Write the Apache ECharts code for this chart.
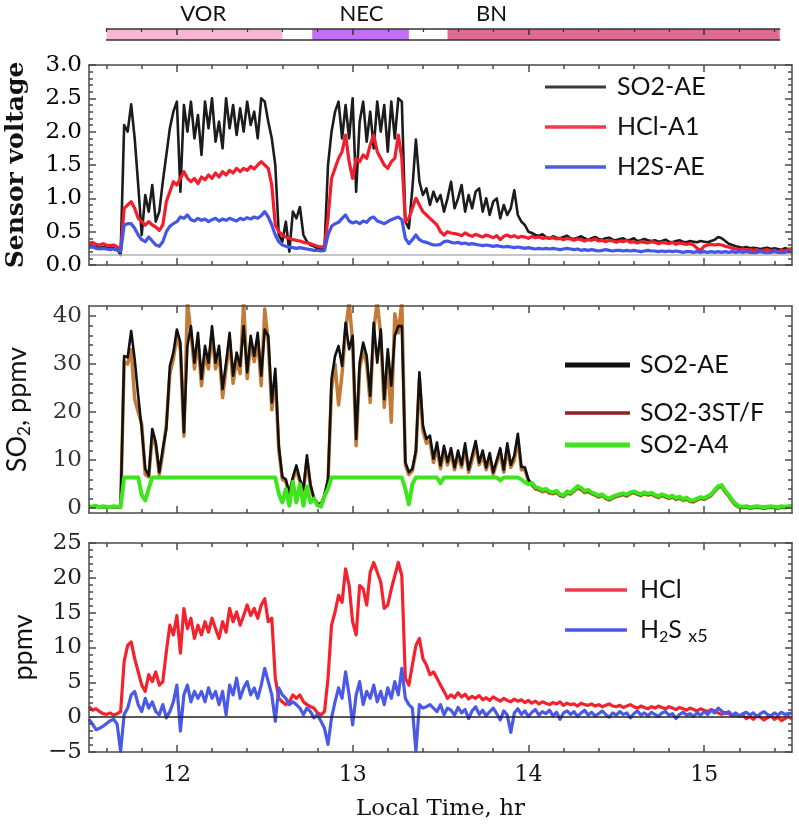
<!DOCTYPE html>
<html>
<head>
<meta charset="utf-8">
<script src="https://cdn.jsdelivr.net/npm/echarts@6/dist/echarts.min.js"></script>
<style>html,body{margin:0;padding:0;background:#fff}#c{width:799px;height:836px}</style>
</head>
<body>
<div id="c"></div>
<script>
// ------------------------- DATA -------------------------
// samples every 0.02 hr from 11.50 to 15.50 (201 samples)
const timeStart = 11.5, timeEnd = 15.5, timeStep = 0.02;
const timeTicks = [12, 13, 14, 15];
const voltageTicks = [0, 0.5, 1, 1.5, 2, 2.5, 3];
const so2Ticks = [0, 10, 20, 30, 40];
const ppmvTicks = [-5, 0, 5, 10, 15, 20, 25];

// plume sampling periods (top bar)
const periodNames = ['VOR', 'NEC', 'BN'];
const periodStart = [11.6, 12.77, 13.54];
const periodEnd = [12.6, 13.32, 15.43];
const periodLabelAt = [12.15, 13.05, 13.79];

// panel 1: sensor voltage
const voltNames = ['SO2-AE', 'HCl-A1', 'H2S-AE'];
const voltBaseline = 0.16;
const voltSO2AE = [
0.27,0.28,0.27,0.26,0.27,0.26,0.25,0.26,0.24,0.15,
2.1,2.0,2.41,1.9,1.2,0.45,1.05,0.8,1.2,0.65,
0.8,1.25,1.65,2.05,2.3,2.45,1.1,2.4,2.0,2.45,
1.9,2.25,1.65,2.45,2.05,2.5,1.85,2.15,1.75,2.5,
2.05,2.4,1.95,2.35,2.0,2.45,2.1,2.3,1.9,2.5,
2.45,2.15,1.9,1.5,0.45,0.35,0.65,0.2,0.8,0.7,
0.87,0.45,0.35,0.3,0.28,0.25,0.23,0.25,1.5,2.0,
2.3,2.45,1.9,2.4,1.9,2.5,1.1,2.15,2.45,1.85,
2.3,1.75,2.45,2.0,2.4,1.7,2.45,1.9,2.5,2.45,
0.65,0.55,1.15,1.88,1.25,1.05,1.15,0.9,1.1,0.95,
1.05,0.8,1.0,1.25,0.85,1.0,1.2,0.8,1.05,0.85,
1.1,1.15,0.8,1.0,0.75,0.95,1.0,0.7,0.9,0.75,
0.85,1.12,0.75,0.65,0.6,0.5,0.48,0.45,0.44,0.46,
0.42,0.4,0.43,0.41,0.4,0.42,0.44,0.4,0.39,0.41,
0.43,0.4,0.38,0.4,0.42,0.39,0.38,0.4,0.41,0.38,
0.37,0.39,0.4,0.37,0.38,0.4,0.36,0.37,0.39,0.37,
0.36,0.37,0.35,0.36,0.38,0.35,0.34,0.36,0.37,0.35,
0.34,0.36,0.35,0.34,0.36,0.35,0.34,0.36,0.38,0.42,
0.4,0.36,0.32,0.3,0.28,0.27,0.26,0.27,0.25,0.26,
0.25,0.24,0.25,0.26,0.24,0.25,0.24,0.23,0.25,0.24,
0.23];
const voltHCl = [
0.32,0.34,0.31,0.3,0.32,0.3,0.29,0.3,0.27,0.22,
0.85,0.9,0.95,0.85,0.7,0.65,0.6,0.65,0.6,0.57,
0.52,0.6,0.95,1.1,1.25,1.2,1.3,1.4,1.3,1.25,
1.3,1.22,1.32,1.28,1.35,1.3,1.38,1.32,1.4,1.35,
1.42,1.38,1.45,1.4,1.45,1.42,1.48,1.44,1.5,1.55,
1.5,1.45,1.2,0.6,0.5,0.45,0.42,0.4,0.38,0.37,
0.36,0.34,0.33,0.32,0.3,0.28,0.27,0.28,0.7,1.3,
1.45,1.6,1.7,1.95,1.55,1.3,1.6,1.55,1.65,1.6,
1.8,1.95,1.7,1.6,1.5,1.45,1.55,1.6,1.95,1.6,
0.65,0.7,0.85,1.0,0.9,0.8,0.75,0.7,0.65,0.6,
0.5,0.45,0.5,0.48,0.47,0.46,0.44,0.48,0.45,0.43,
0.46,0.44,0.42,0.45,0.43,0.41,0.44,0.38,0.43,0.45,
0.42,0.44,0.41,0.43,0.42,0.4,0.43,0.41,0.42,0.4,
0.41,0.4,0.41,0.39,0.4,0.38,0.4,0.39,0.37,0.39,
0.38,0.36,0.38,0.37,0.39,0.36,0.37,0.35,0.37,0.36,
0.34,0.36,0.35,0.37,0.34,0.35,0.33,0.35,0.34,0.33,
0.35,0.34,0.32,0.34,0.33,0.32,0.34,0.31,0.33,0.32,
0.31,0.32,0.3,0.25,0.22,0.28,0.3,0.31,0.3,0.31,
0.3,0.28,0.27,0.25,0.24,0.23,0.24,0.22,0.23,0.22,
0.23,0.21,0.22,0.23,0.21,0.22,0.2,0.22,0.21,0.23,
0.25];
const voltH2S = [
0.26,0.27,0.25,0.24,0.25,0.24,0.23,0.24,0.22,0.2,
0.6,0.62,0.62,0.55,0.45,0.38,0.35,0.42,0.36,0.3,
0.28,0.35,0.5,0.58,0.62,0.65,0.72,0.7,0.75,0.68,
0.66,0.7,0.67,0.69,0.65,0.68,0.7,0.66,0.69,0.67,
0.7,0.68,0.66,0.7,0.68,0.71,0.69,0.72,0.7,0.74,
0.8,0.72,0.6,0.45,0.35,0.3,0.28,0.27,0.26,0.25,
0.26,0.25,0.24,0.23,0.22,0.22,0.21,0.22,0.45,0.58,
0.62,0.64,0.7,0.75,0.66,0.63,0.65,0.62,0.66,0.64,
0.7,0.72,0.66,0.64,0.62,0.65,0.68,0.7,0.72,0.68,
0.4,0.32,0.38,0.45,0.38,0.35,0.34,0.32,0.3,0.3,
0.31,0.35,0.36,0.34,0.33,0.34,0.32,0.33,0.31,0.32,
0.31,0.3,0.29,0.3,0.29,0.28,0.29,0.28,0.27,0.28,
0.27,0.26,0.27,0.26,0.25,0.26,0.25,0.24,0.25,0.24,
0.25,0.24,0.25,0.24,0.23,0.24,0.25,0.24,0.23,0.24,
0.22,0.23,0.22,0.23,0.22,0.21,0.22,0.23,0.22,0.21,
0.22,0.22,0.21,0.22,0.21,0.22,0.21,0.2,0.21,0.22,
0.21,0.21,0.2,0.21,0.2,0.21,0.2,0.21,0.2,0.19,
0.2,0.2,0.19,0.2,0.19,0.2,0.19,0.2,0.19,0.2,
0.19,0.2,0.19,0.2,0.19,0.2,0.19,0.2,0.19,0.18,
0.19,0.2,0.19,0.18,0.19,0.2,0.19,0.18,0.19,0.2,
0.19];

// panel 2: SO2, ppmv
const so2Names = ['SO2-AE', 'SO2-3ST/F', 'SO2-A4'];
const so2AE = [
0.3,0.2,0.4,0.1,0.3,0.2,0.1,0.3,0.2,0.2,
31.7,31.4,36.9,31.0,23.4,16.5,8.2,6.8,16.5,13.7,
7.5,12.4,16.5,29.6,32.4,37.2,34.5,15.8,33.8,37.9,
30.3,36.5,26.9,33.8,30.3,37.9,30.3,33.8,24.8,30.3,
36.5,27.6,32.4,29.6,37.9,28.3,35.9,31.7,36.5,27.6,
37.2,35.9,22.0,29.0,13.0,6.5,6.0,3.0,6.5,8.9,
6.0,4.0,11.0,5.0,2.0,1.0,0.8,2.8,6.0,26.9,
31.7,33.8,29.6,38.6,33.1,35.9,14.4,30.3,34.5,31.7,
23.4,38.6,30.3,37.2,22.7,33.1,25.5,35.9,37.9,37.9,
9.6,7.5,8.2,12.0,28.3,17.2,14.4,15.1,10.3,13.7,
8.9,13.0,9.6,12.5,8.5,12.0,9.0,13.5,8.0,11.0,
14.0,9.5,12.0,8.5,11.5,7.5,10.0,12.5,8.0,13.5,
9.0,11.0,15.5,8.6,8.5,6.0,5.0,4.2,4.0,3.6,
3.8,3.3,3.1,3.4,2.7,2.5,3.3,3.0,3.7,4.4,
4.0,3.4,3.6,3.1,2.8,2.4,2.7,2.1,1.8,2.2,
2.5,2.7,2.9,2.6,3.1,3.3,3.0,2.7,3.1,2.8,
3.0,2.6,2.3,2.7,2.4,2.1,2.4,1.9,2.2,1.7,
2.0,1.5,1.4,1.8,2.1,1.9,2.3,2.7,3.6,4.4,
4.6,3.4,2.6,1.5,0.7,0.2,0.1,0.2,0.0,0.1,
0.2,0.1,0.0,0.1,0.2,0.1,0.0,0.2,0.1,0.2,
0.3];
const so2ST = [
0.3,0.3,0.4,0.2,0.3,0.2,0.2,0.3,0.2,0.2,
30.5,30.0,33.0,22.7,20.0,17.5,7.0,6.5,15.0,13.0,
7.0,11.5,17.5,28.0,31.0,36.0,33.0,15.0,43.0,36.5,
29.0,35.0,25.5,32.0,29.0,36.5,29.0,32.5,23.0,29.0,
35.0,26.0,31.0,28.0,43.0,27.0,34.5,30.5,35.0,25.5,
41.5,34.5,20.5,27.5,12.0,6.0,5.5,3.0,6.0,8.0,
5.5,3.5,10.0,4.5,2.0,1.0,0.8,2.5,5.5,25.0,
30.0,21.5,28.0,37.0,43.0,34.5,13.0,29.0,33.0,30.0,
22.0,37.0,43.0,36.0,21.0,31.5,17.9,40.5,36.5,43.0,
9.0,7.0,7.8,11.5,27.0,16.0,13.5,14.0,9.5,12.5,
8.2,12.0,9.0,11.5,8.0,11.0,8.5,12.5,7.5,10.0,
13.0,9.0,11.0,8.0,10.5,7.0,9.5,11.5,7.5,12.5,
8.5,10.0,14.5,8.0,8.0,5.6,4.8,4.0,3.8,3.4,
3.6,3.1,3.0,3.2,2.6,2.4,3.1,2.9,3.5,4.2,
3.8,3.2,3.4,3.0,2.7,2.3,2.6,2.0,1.7,2.1,
2.4,2.6,2.8,2.5,3.0,3.2,2.9,2.6,3.0,2.7,
2.9,2.5,2.2,2.6,2.3,2.0,2.3,1.8,2.1,1.6,
1.9,1.4,1.3,1.7,2.0,1.8,2.2,2.6,3.5,4.3,
4.5,3.3,2.5,1.4,0.6,0.2,0.1,0.2,0.0,0.1,
0.2,0.1,0.0,0.1,0.2,0.1,0.0,0.2,0.1,0.2,
0.3];
const so2A4 = [
0.4,0.3,0.5,0.2,0.4,0.3,0.2,0.4,0.3,0.3,
6.4,6.4,6.4,6.4,6.4,2.7,1.6,4.1,6.4,6.4,
6.4,6.4,6.4,6.4,6.4,6.4,6.4,6.4,6.4,6.4,
6.4,6.4,6.4,6.4,6.4,6.4,6.4,6.4,6.4,6.4,
6.4,6.4,6.4,6.4,6.4,6.4,6.4,6.4,6.4,6.4,
6.4,6.4,6.4,6.4,3.0,1.2,4.0,0.5,5.5,1.2,
5.0,0.5,4.5,1.2,2.0,0.6,0.3,2.5,4.0,6.4,
6.4,6.4,6.4,6.4,6.4,6.4,6.4,6.4,6.4,6.4,
6.4,6.4,6.4,6.4,6.4,6.4,6.4,6.4,6.4,6.4,
4.0,0.8,5.0,6.4,6.4,6.4,6.4,6.4,6.4,6.4,
5.2,6.4,6.4,6.4,6.4,6.4,6.4,6.4,6.4,6.4,
6.4,6.4,6.4,6.4,6.4,6.4,6.4,5.8,6.4,6.4,
6.4,6.4,6.4,6.0,5.4,5.0,5.3,4.4,4.2,3.8,
4.0,3.5,3.3,3.6,2.9,2.7,3.5,3.2,3.9,4.6,
4.2,3.6,3.8,3.3,3.0,2.6,2.9,2.3,2.0,2.4,
2.7,2.9,3.1,2.8,3.3,3.5,3.2,2.9,3.3,3.0,
3.2,2.8,2.5,2.9,2.6,2.3,2.6,2.1,2.4,1.9,
2.2,1.7,1.6,2.0,2.3,2.1,2.5,2.9,3.8,4.6,
4.8,3.6,2.8,1.7,0.9,0.4,0.3,0.4,0.2,0.3,
0.4,0.3,0.2,0.3,0.4,0.3,0.2,0.4,0.3,0.4,
0.5];

// panel 3: HCl and H2S x5, ppmv
const ppmvNames = ['HCl', 'H2S x5'];
const ppmvHCl = [
1.5,1.0,1.2,0.8,0.5,0.4,0.6,0.3,0.5,0.8,
8.0,10.3,10.8,8.4,6.5,4.6,3.7,6.1,5.1,6.5,
4.6,5.1,9.4,13.2,11.8,14.6,9.2,15.6,12.7,14.2,
11.3,13.2,11.8,13.7,12.2,14.2,12.7,11.3,13.7,12.2,
15.6,13.7,15.1,13.2,14.6,16.1,14.6,15.6,14.2,16.1,
17.0,13.7,14.2,5.6,2.7,2.2,1.8,2.2,3.2,2.7,
3.2,2.2,1.8,1.5,1.3,0.6,0.35,0.8,5.6,13.2,
15.1,17.5,16.5,21.3,18.9,13.7,11.8,18.9,18.4,16.1,
20.8,22.2,20.8,19.4,15.6,16.1,18.4,20.3,22.2,20.3,
5.6,4.6,7.5,10.3,11.3,8.4,7.5,6.1,6.5,5.6,
4.6,3.7,2.7,3.2,2.8,3.5,2.9,3.3,2.6,3.0,
2.7,3.1,2.5,2.8,2.4,2.9,2.6,2.3,2.7,2.4,
2.2,2.6,2.3,2.5,2.1,2.4,2.0,2.3,1.9,2.2,
2.0,1.8,2.1,1.9,2.2,1.7,2.0,1.8,1.9,1.6,
2.0,1.8,1.7,1.9,1.6,1.8,1.5,1.7,1.9,1.6,
1.5,1.7,1.4,1.6,1.8,1.5,1.3,1.6,1.4,1.2,
1.5,1.3,1.6,1.4,1.2,1.5,1.3,1.1,1.4,1.2,
1.0,1.3,1.1,0.9,1.2,1.0,0.8,1.1,0.9,0.6,
0.4,0.7,0.5,0.2,0.4,0.1,0.3,-0.2,0.1,-0.3,
0.2,0.0,-0.4,-0.1,0.2,-0.3,0.0,-0.5,-0.2,0.1,
-0.3];
const ppmvH2S = [
-0.3,-1.0,-1.8,-1.6,-1.3,-0.9,-0.5,-0.3,-1.0,-4.9,
0.4,1.3,3.2,3.7,1.8,0.8,2.7,1.3,2.2,0.8,
0.35,1.8,-0.1,0.8,2.2,4.6,-2.0,3.2,4.6,2.2,
3.7,2.7,3.7,2.2,4.2,2.7,3.7,1.8,3.7,0.35,
4.6,3.2,5.6,2.7,4.2,5.1,3.2,4.2,2.7,4.6,
7.0,5.1,3.2,-0.6,4.2,3.2,2.7,1.8,2.2,1.8,
1.3,0.35,1.3,0.8,-0.1,0.35,-0.6,-1.6,-3.9,-0.1,
2.2,4.2,2.7,6.5,3.2,-1.1,3.2,5.1,1.8,3.7,
2.7,4.6,2.2,3.7,1.8,4.2,2.7,5.1,3.2,7.0,
2.7,1.8,1.3,-4.9,1.8,1.3,1.5,1.8,1.3,0.8,
1.8,0.35,1.3,1.0,0.3,1.4,0.6,1.1,-0.2,0.9,
1.5,0.4,1.0,0.2,0.8,1.3,0.5,-0.4,0.9,0.3,
-2.2,0.6,1.2,0.4,0.9,0.1,0.7,1.1,0.3,0.8,
0.5,1.0,0.2,0.7,-0.3,0.6,0.9,0.4,0.8,0.1,
0.6,1.0,0.3,0.7,0.2,0.5,0.9,0.4,0.0,0.6,
0.3,0.8,0.4,0.6,-0.1,0.5,0.9,0.3,0.6,0.2,
0.7,0.4,0.1,0.6,0.8,0.3,0.5,-0.2,0.4,0.7,
0.3,0.5,0.1,0.6,0.3,0.8,0.4,1.0,0.6,1.3,
0.9,0.5,0.8,0.3,0.6,0.2,0.5,0.7,0.3,0.6,
0.1,0.5,0.8,0.4,0.2,0.6,0.3,0.7,0.4,0.5,
0.6];

// ------------------------- LAYOUT / STYLE -------------------------
const PLOT_LEFT = 89, PLOT_RIGHT = 792, CANVAS_W = 799;
const pxPerHr = (PLOT_RIGHT - PLOT_LEFT) / (timeEnd - timeStart);
const serif = 'DejaVu Serif', sans = 'Lato';
const frame = { color: '#4a4a4a', width: 1.5 };
const times = voltSO2AE.map((_, i) => Math.round((timeStart + i * timeStep) * 100) / 100);
const pts = arr => arr.map((v, i) => [times[i], v]);
const minorTimeTicks = [];
for (let k = 58; k <= 77; k++) { if (k % 5 !== 0) minorTimeTicks.push(k / 5); }
const so2Minor = [];
for (let k = 1; k <= 20; k++) { if (k % 5 !== 0) so2Minor.push(k * 2); }
const signed = v => (v < 0 ? '\u2212' + (-v) : String(v));

const panels = [
  { top: 65, height: 200, min: 0, max: 3, interval: 0.5, minorSplit: 5, fmt: v => v.toFixed(1), labelColor: '#000',
    name: 'Sensor voltage', nameGap: 60, nameStyle: { fontFamily: serif, fontSize: 25, fontWeight: 'bold', color: '#111' } },
  { top: 306, height: 207, min: -1, max: 42.1, custom: so2Ticks, customMinor: so2Minor, fmt: signed, labelColor: '#333',
    name: 'SO{s|2}, ppmv', nameGap: 56, nameStyle: { fontFamily: sans, fontSize: 27, lineHeight: 32, color: '#111',
      rich: { s: { fontFamily: sans, fontSize: 17, lineHeight: 17, verticalAlign: 'bottom', color: '#111' } } } },
  { top: 543, height: 209, min: -5, max: 25, interval: 5, minorSplit: 5, fmt: signed, labelColor: '#222',
    name: 'ppmv', nameGap: 44, nameStyle: { fontFamily: sans, fontSize: 27, color: '#111' } }
];

const grid = [], xAxis = [], yAxis = [];
const axisIdx = [];
panels.forEach((p, gi) => {
  grid.push({ left: PLOT_LEFT, right: CANVAS_W - PLOT_RIGHT, top: p.top, height: p.height, containLabel: false, outerBoundsMode: 'none' });
  const baseX = { gridIndex: gi, type: 'value', min: timeStart, max: timeEnd, splitLine: { show: false }, z: 5 };
  const isLast = gi === panels.length - 1;
  xAxis.push(Object.assign({}, baseX, {
    position: 'bottom',
    axisLine: { show: true, onZero: false, lineStyle: frame },
    axisTick: { show: true, inside: true, length: 7, customValues: timeTicks, lineStyle: frame },
    axisLabel: { show: isLast, customValues: timeTicks, fontFamily: serif, fontSize: 22, color: '#111', margin: 12 },
    name: isLast ? 'Local Time, hr' : '', nameLocation: 'middle', nameGap: 46,
    nameTextStyle: { fontFamily: serif, fontSize: 23, color: '#111' }
  }));
  const xi = xAxis.length - 1;
  xAxis.push(Object.assign({}, baseX, { position: 'bottom', axisLine: { show: false, onZero: false },
    axisTick: { show: true, inside: true, length: 4, customValues: minorTimeTicks, lineStyle: frame }, axisLabel: { show: false } }));
  xAxis.push(Object.assign({}, baseX, { position: 'top', axisLine: { show: true, onZero: false, lineStyle: frame },
    axisTick: { show: true, inside: true, length: 7, customValues: timeTicks, lineStyle: frame }, axisLabel: { show: false } }));
  xAxis.push(Object.assign({}, baseX, { position: 'top', axisLine: { show: false, onZero: false },
    axisTick: { show: true, inside: true, length: 4, customValues: minorTimeTicks, lineStyle: frame }, axisLabel: { show: false } }));

  const baseY = { gridIndex: gi, type: 'value', min: p.min, max: p.max, splitLine: { show: false }, z: 5 };
  if (p.interval) baseY.interval = p.interval;
  ['left', 'right'].forEach(side => {
    const left = side === 'left';
    yAxis.push(Object.assign({}, baseY, {
      position: side,
      axisLine: { show: true, onZero: false, lineStyle: frame },
      axisTick: Object.assign({ show: true, inside: true, length: 7, lineStyle: frame }, p.custom ? { customValues: p.custom } : {}),
      minorTick: { show: !!p.minorSplit, splitNumber: p.minorSplit || 5, length: 4, lineStyle: frame },
      axisLabel: Object.assign({ show: left, formatter: p.fmt, fontFamily: serif, fontSize: 23, color: p.labelColor, margin: 7 },
        p.custom ? { customValues: p.custom } : {}),
      name: left ? p.name : '', nameLocation: 'middle', nameRotate: 90, nameGap: p.nameGap, nameTextStyle: p.nameStyle
    }));
    if (left) axisIdx[gi] = { x: xi, y: yAxis.length - 1 };
    if (p.customMinor) {
      yAxis.push(Object.assign({}, baseY, { position: side, axisLine: { show: false, onZero: false },
        axisTick: { show: true, inside: true, length: 4, customValues: p.customMinor, lineStyle: frame }, axisLabel: { show: false } }));
    }
  });
});

// top bar with sampling periods
const barStart = periodStart[0], barEnd = periodEnd[periodEnd.length - 1];
grid.push({ left: PLOT_LEFT + (barStart - timeStart) * pxPerHr, width: (barEnd - barStart) * pxPerHr, top: 29, height: 11,
  containLabel: false, outerBoundsMode: 'none' });
const bg = grid.length - 1;
const barBase = { gridIndex: bg, type: 'value', min: barStart, max: barEnd, splitLine: { show: false }, z: 10 };
xAxis.push(Object.assign({}, barBase, { position: 'top', axisLine: { show: true, onZero: false, lineStyle: { color: '#333', width: 1.5 } },
  axisTick: { show: true, inside: true, length: 6, customValues: timeTicks, lineStyle: { color: '#333', width: 1.5 } }, axisLabel: { show: false } }));
const barX = xAxis.length - 1;
xAxis.push(Object.assign({}, barBase, { position: 'top', axisLine: { show: false, onZero: false },
  axisTick: { show: true, inside: true, length: 3, customValues: minorTimeTicks, lineStyle: { color: '#333', width: 1.2 } }, axisLabel: { show: false } }));
xAxis.push(Object.assign({}, barBase, { position: 'bottom', axisLine: { show: true, onZero: false, lineStyle: { color: '#333', width: 1.5 } },
  axisTick: { show: false }, axisLabel: { show: false } }));
yAxis.push({ gridIndex: bg, type: 'value', min: 0, max: 1, show: false });
const barY = yAxis.length - 1;
const periodColors = ['#f9b5d3', '#c46ef8', '#e06a90'];

function line(name, data, panel, color, width, extra) {
  return Object.assign({ type: 'line', name, data: pts(data), xAxisIndex: axisIdx[panel].x, yAxisIndex: axisIdx[panel].y,
    symbol: 'none', showSymbol: false, clip: true, silent: true, animation: false,
    lineStyle: { color, width, join: 'round' }, itemStyle: { color } }, extra || {});
}
const hline = (value, color, width) => ({ silent: true, symbol: ['none', 'none'], label: { show: false }, animation: false,
  lineStyle: { color, width, type: 'solid' }, emphasis: { disabled: true }, data: [{ yAxis: value }] });

const series = [
  line(voltNames[0], voltSO2AE, 0, '#1c1c1c', 2.6, { markLine: hline(voltBaseline, '#b3b3b3', 1.5) }),
  line(voltNames[1], voltHCl, 0, '#f21d2d', 3.2),
  line(voltNames[2], voltH2S, 0, '#4256e8', 3.2),
  line(so2Names[1], so2ST, 1, '#c27b38', 3.5),
  line(so2Names[0], so2AE, 1, '#111111', 2.6),
  line(so2Names[2], so2A4, 1, '#3ee51c', 4),
  line(ppmvNames[0], ppmvHCl, 2, '#f5222d', 3.2, { markLine: hline(0, '#222', 1.5) }),
  line(ppmvNames[1], ppmvH2S, 2, '#4a5ae6', 3.2),
  {
    type: 'custom', xAxisIndex: barX, yAxisIndex: barY, silent: true, animation: false, z: 1,
    data: periodNames.map((n, i) => [periodStart[i], periodEnd[i], i]),
    renderItem: (params, api) => {
      const i = api.value(2);
      const a = api.coord([api.value(0), 1]);
      const b = api.coord([api.value(1), 0]);
      const lab = api.coord([periodLabelAt[i], 1]);
      return { type: 'group', children: [
        { type: 'rect', shape: { x: a[0], y: a[1], width: b[0] - a[0], height: b[1] - a[1] }, style: { fill: periodColors[i] } },
        { type: 'text', style: { text: periodNames[i], x: lab[0], y: lab[1] - 15, align: 'center', verticalAlign: 'middle',
          font: '22px Lato', fill: '#111' } }
      ] };
    }
  }
];

// legends (drawn as graphic, positioned like the figure)
const legendFont = '25px Lato';
const legendItems = [
  { x1: 545, x2: 606, tx: 617, y: 87, text: voltNames[0], color: '#3a3a3a', w: 3 },
  { x1: 545, x2: 606, tx: 617, y: 127, text: voltNames[1], color: '#ef3a4a', w: 3.5 },
  { x1: 545, x2: 606, tx: 617, y: 167, text: voltNames[2], color: '#4a5fe0', w: 3.5 },
  { x1: 565, x2: 630, tx: 640, y: 365, text: so2Names[0], color: '#111', w: 5 },
  { x1: 565, x2: 630, tx: 640, y: 413, text: so2Names[1], color: '#8b2323', w: 3.5 },
  { x1: 565, x2: 630, tx: 640, y: 445, text: so2Names[2], color: '#3ee51c', w: 5 },
  { x1: 565, x2: 627, tx: 640, y: 590, text: ppmvNames[0], color: '#f03a4a', w: 3.5 },
  { x1: 565, x2: 627, tx: 640, y: 630, text: 'H{s|2}S {k|x5}', color: '#4a5ae6', w: 3.5 }
];
const graphicEls = [];
legendItems.forEach(it => {
  graphicEls.push({ type: 'line', silent: true, shape: { x1: it.x1, y1: it.y, x2: it.x2, y2: it.y }, style: { stroke: it.color, lineWidth: it.w } });
  graphicEls.push({ type: 'text', silent: true, x: it.tx, y: it.y, style: { text: it.text, font: legendFont, fill: '#111', verticalAlign: 'middle',
    lineHeight: 30,
    rich: { s: { fontFamily: sans, fontSize: 16, lineHeight: 16, verticalAlign: 'bottom', fill: '#111' },
            k: { fontFamily: sans, fontSize: 18, lineHeight: 24, verticalAlign: 'bottom', fill: '#111' } } } });
});

const chart = echarts.init(document.getElementById('c'), null, { renderer: 'canvas' });
chart.setOption({
  backgroundColor: '#ffffff',
  animation: false,
  grid, xAxis, yAxis, series,
  graphic: { elements: graphicEls }
});
</script>
</body>
</html>
